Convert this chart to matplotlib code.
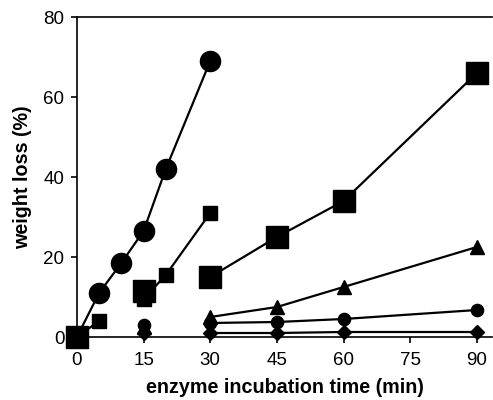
import numpy as np
import matplotlib
matplotlib.use('Agg')
import matplotlib.pyplot as plt

plt.rcParams['font.family'] = ['Liberation Sans', 'DejaVu Sans']

nan = np.nan

# large circles
t_c1 = [0, 5, 10, 15, 20, 30]
w_c1 = [0, 11, 18.5, 26.5, 42, 69]

# small squares (only 15-30 joined)
t_s1 = [0, 5, 10, 15, 20, 30]
w_s1 = [0, 4, nan, 9.5, 15.5, 31]

# large squares (only 30-90 joined)
t_s2 = [0, 5, 15, 20, 30, 45, 60, 90]
w_s2 = [0, nan, 11.5, nan, 15, 25, 34, 66]

# triangles
t_tr = [15, 20, 30, 45, 60, 90]
w_tr = [2.5, nan, 5, 7.5, 12.5, 22.5]

# small circles
t_c2 = [15, 20, 30, 45, 60, 90]
w_c2 = [3, nan, 3.5, 3.75, 4.5, 6.75]

# diamonds
t_di = [15, 20, 30, 45, 60, 90]
w_di = [1, nan, 1, 1, 1.25, 1.25]

fig = plt.figure(figsize=(4.93, 4.0), dpi=100)
ax = fig.add_axes([0.156, 0.1575, 0.842, 0.8])

kw = dict(color='black', lw=1.6, clip_on=False)
ax.plot(t_di, w_di, marker='D', ms=7.5, **kw)
ax.plot(t_c2, w_c2, marker='o', ms=8.8, **kw)
ax.plot(t_tr, w_tr, marker='^', ms=10, **kw)
ax.plot(t_s1, w_s1, marker='s', ms=9.5, **kw)
ax.plot(t_c1, w_c1, marker='o', ms=14.5, **kw)
ax.plot(t_s2, w_s2, marker='s', ms=16.5, **kw)

ax.set_xlim(0, 93.4)
ax.set_ylim(0, 80)
ax.set_xticks([0, 15, 30, 45, 60, 75, 90])
ax.set_yticks([0, 20, 40, 60, 80])
ax.spines['right'].set_visible(False)
for s in ax.spines.values():
    s.set_linewidth(1.2)
ax.tick_params(direction='out', length=4, width=1.2, labelsize=13.5)
ax.tick_params(axis='x', pad=7)
ax.tick_params(axis='y', pad=5)

ax.set_xlabel('enzyme incubation time (min)', fontsize=14.2, fontweight='bold', labelpad=6)
ax.set_ylabel('weight loss (%)', fontsize=14.2, fontweight='bold', labelpad=8)

fig.savefig('out.png', dpi=100)
